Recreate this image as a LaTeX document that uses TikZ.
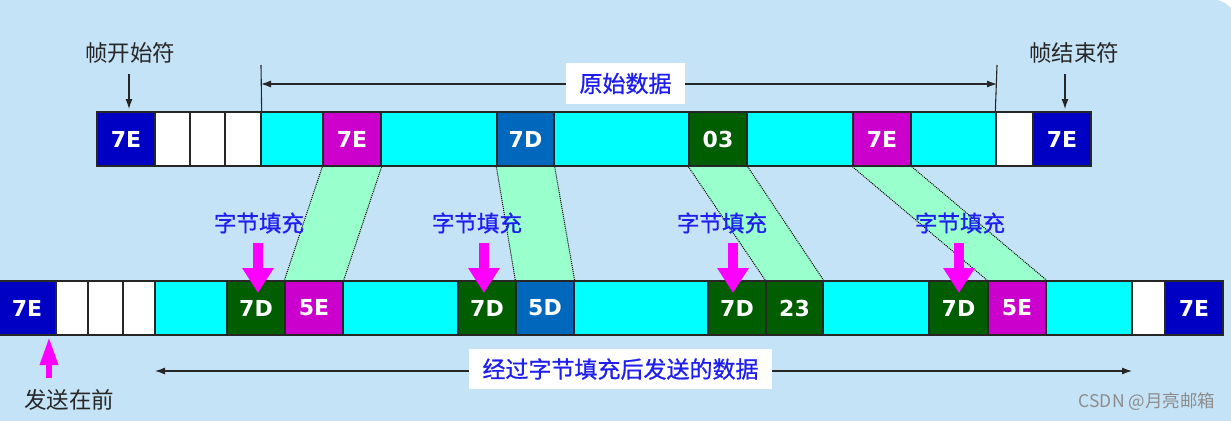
\documentclass[tikz,border=0pt]{standalone}
\usepackage{fontspec}
\setmainfont{DejaVu Sans}
\newfontfamily\cjk{Noto Sans CJK SC}
\newfontfamily\cjkb{Noto Sans CJK SC}[FakeBold=0.8]
\usetikzlibrary{arrows.meta}
\definecolor{bg}{HTML}{C5E3F7}
\definecolor{dblue}{HTML}{0000C4}
\definecolor{mag}{HTML}{CC00CC}
\definecolor{mblue}{HTML}{0068BC}
\definecolor{dgreen}{HTML}{005E00}
\definecolor{cyanc}{HTML}{00FFFF}
\definecolor{trap}{HTML}{99FFCC}
\definecolor{pinka}{HTML}{FF00FF}
\definecolor{bluetxt}{HTML}{1E1EF0}
\begin{document}
\begin{tikzpicture}[x=1pt,y=-1pt,
  cell/.style={draw=black!85, line width=1.3pt, minimum height=54pt, inner sep=0pt,
    font=\bfseries\fontsize{22}{22}\selectfont, text=white},
  dark/.style={cell, fill=dblue},
  magc/.style={cell, fill=mag},
  blc/.style={cell, fill=mblue},
  grc/.style={cell, fill=dgreen},
  cyc/.style={cell, fill=cyanc},
  whc/.style={cell, fill=white},
  trapz/.style={fill=trap},
  trapedge/.style={densely dotted, line width=1pt, black},
  stuff/.style={font=\cjkb\fontsize{22.5}{22.5}\selectfont, text=bluetxt, inner sep=0pt},
  blacklbl/.style={font=\cjk\fontsize{22.5}{22.5}\selectfont, text=black!85, inner sep=0pt},
  thinarrow/.style={line width=1.1pt, black!85, -{Latex[length=10pt,width=7pt]}},
  dimarrow/.style={line width=1.1pt, black!85, {Latex[length=10pt,width=7pt]}-{Latex[length=10pt,width=7pt]}},
  pinkarrow/.style={line width=10pt, pinka, -{Triangle[length=25pt,width=30pt]}},
  smallpink/.style={line width=6pt, pinka, -{Triangle[length=28pt,width=17pt]}},
  lblbox/.style={fill=white, inner sep=0pt, font=\cjkb\fontsize{23}{23}\selectfont, text=bluetxt}
]
\useasboundingbox (0,0) rectangle (1231,421);
\fill[bg] (0,0) rectangle (1231,421);
\fill[white] (1218,0) -- (1231,0) -- (1231,8) .. controls (1228,4.5) and (1223.5,1.5) .. (1218,0) -- cycle;

% top row
\node[dark, minimum width=58pt] (t1) at (126,139) {7E};
\node[whc, minimum width=35pt] (t2) at (172.5,139) {};
\node[whc, minimum width=35pt] (t3) at (207.5,139) {};
\node[whc, minimum width=36pt] (t4) at (243,139) {};
\node[cyc, minimum width=62pt] (t5) at (292,139) {};
\node[magc, minimum width=58pt] (t6) at (352,139) {7E};
\node[cyc, minimum width=116pt] (t7) at (439,139) {};
\node[blc, minimum width=57pt] (t8) at (525.5,139) {7D};
\node[cyc, minimum width=135pt] (t9) at (621.5,139) {};
\node[grc, minimum width=58pt] (t10) at (718,139) {03};
\node[cyc, minimum width=106pt] (t11) at (800,139) {};
\node[magc, minimum width=58pt] (t12) at (882,139) {7E};
\node[cyc, minimum width=85pt] (t13) at (953.5,139) {};
\node[whc, minimum width=37pt] (t14) at (1014.5,139) {};
\node[dark, minimum width=58pt] (t15) at (1062,139) {7E};

% bottom row
\node[dark, minimum width=58pt] (b1) at (27,308) {7E};
\node[whc, minimum width=32pt] (b2) at (72,308) {};
\node[whc, minimum width=35pt] (b3) at (105.5,308) {};
\node[whc, minimum width=32pt] (b4) at (139,308) {};
\node[cyc, minimum width=72pt] (b5) at (191,308) {};
\node[grc, minimum width=58pt] (b6) at (256,308) {7D};
\node[magc, minimum width=58pt] (b7) at (314,308) {5E};
\node[cyc, minimum width=115pt] (b8) at (400.5,308) {};
\node[grc, minimum width=58pt] (b9) at (487,308) {7D};
\node[blc, minimum width=58pt] (b10) at (545,308) {5D};
\node[cyc, minimum width=134pt] (b11) at (641,308) {};
\node[grc, minimum width=58pt] (b12) at (737,308) {7D};
\node[grc, minimum width=57pt] (b13) at (794.5,308) {23};
\node[cyc, minimum width=106pt] (b14) at (876,308) {};
\node[grc, minimum width=59pt] (b15) at (958.5,308) {7D};
\node[magc, minimum width=58pt] (b16) at (1017,308) {5E};
\node[cyc, minimum width=86pt] (b17) at (1089,308) {};
\node[whc, minimum width=33pt] (b18) at (1148.5,308) {};
\node[dark, minimum width=58pt] (b19) at (1194,308) {7E};

% trapezoids
\foreach \a/\b in {t6/b7, t8/b10, t10/b13, t12/b16}{
  \fill[trapz] (\a.south west) -- (\a.south east) -- (\b.north east) -- (\b.north west) -- cycle;
  \draw[trapedge] (\a.south west) -- (\b.north west);
  \draw[trapedge] (\a.south east) -- (\b.north east);
}

% redraw borders of boxes touching trapezoids
\foreach \n in {t6,t8,t10,t12,b7,b10,b13,b16}{
  \draw[black!85, line width=1.3pt] (\n.south west) rectangle (\n.north east);
}

% stuffing labels and arrows
\node[stuff] (s1) at (259,223) {字节填充};
\node[stuff] (s2) at (477,223) {字节填充};
\node[stuff] (s3) at (722,223) {字节填充};
\node[stuff] (s4) at (960,223) {字节填充};
\coordinate (a1s) at (258,243); \coordinate (a1e) at (258,293);
\coordinate (a2s) at (484,243); \coordinate (a2e) at (484,293);
\coordinate (a3s) at (733,243); \coordinate (a3e) at (733,293);
\coordinate (a4s) at (959,243); \coordinate (a4e) at (959,293);
\draw[pinkarrow] (a1s) -- (a1e);
\draw[pinkarrow] (a2s) -- (a2e);
\draw[pinkarrow] (a3s) -- (a3e);
\draw[pinkarrow] (a4s) -- (a4e);

% frame start / end labels
\node[blacklbl] (fs) at (130,53) {帧开始符};
\node[blacklbl] (fe) at (1074,53) {帧结束符};
\coordinate (fsa) at (129,74);
\coordinate (fea) at (1065,74);
\draw[thinarrow] (fsa) -- (129,109) coordinate (fsb);
\draw[thinarrow] (fea) -- (1065,109) coordinate (feb);

% original data bracket
\coordinate (ol) at (261,65);
\coordinate (or) at (997,65);
\draw[line width=1.1pt, black!85] (ol) -- (t4.north east);
\draw[line width=1.1pt, black!85] (or) -- (t14.north west);
\coordinate (oal) at (261,84);
\coordinate (oar) at (997,84);
\draw[dimarrow] (oal) -- (oar);
\node[lblbox, minimum width=119pt, minimum height=41pt] (orig) at (625.5,83.5) {原始数据};

% sent data arrow
\coordinate (sal) at (155,371);
\coordinate (sar) at (1132,371);
\draw[dimarrow] (sal) -- (sar);
\node[lblbox, minimum width=303pt, minimum height=40pt] (sent) at (620.5,369) {经过字节填充后发送的数据};

% sent first
\node[blacklbl] (first) at (69,400) {发送在前};
\coordinate (fpa) at (49,378);
\draw[smallpink] (fpa) -- (49,337);

% watermark
\node[font=\cjk\fontsize{17.5}{17.5}\selectfont, text=black!45, inner sep=0pt] (wm) at (1147,402) {CSDN @月亮邮箱};
\end{tikzpicture}
\end{document}
